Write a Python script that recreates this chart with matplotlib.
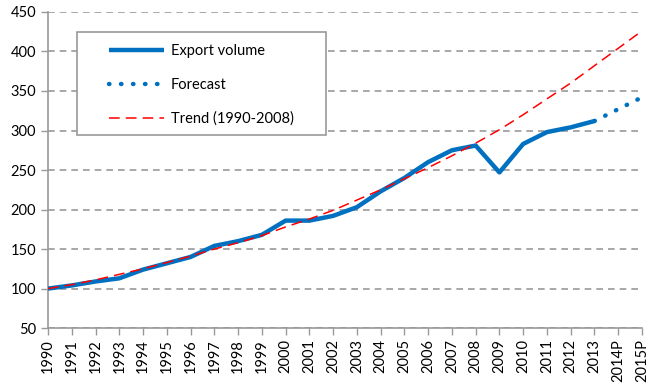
import matplotlib
matplotlib.use("Agg")
import matplotlib.pyplot as plt
from matplotlib.patches import Rectangle

plt.rcParams['font.family'] = ['Lato', 'DejaVu Sans']

categories = ['1990', '1991', '1992', '1993', '1994', '1995', '1996', '1997', '1998',
              '1999', '2000', '2001', '2002', '2003', '2004', '2005', '2006', '2007',
              '2008', '2009', '2010', '2011', '2012', '2013', '2014P', '2015P']
export_volume = [100, 104, 109, 113, 124, 132, 140, 154, 160, 168, 186, 186, 192, 203,
                 223, 240, 260, 275, 281, 247, 283, 298, 304, 312]
forecast = [312, 327, 342]  # 2013, 2014P, 2015P
trend = [100, 105, 111, 118, 125, 133, 141, 150, 158, 167, 178, 188, 199, 212, 225,
         239, 253, 268, 284, 301, 320, 340, 360, 382, 404, 426]

blue = '#0070C0'
fig = plt.figure(figsize=(6.68, 3.86), dpi=100)
ax = fig.add_axes([0.0719, 0.150, 0.8891, 0.819])

x = list(range(len(categories)))
ax.plot(x[:len(export_volume)], export_volume, color=blue, lw=3.2,
        solid_capstyle='butt', solid_joinstyle='round', label='Export volume', zorder=3)
ax.plot(x[len(export_volume) - 1:], forecast, color=blue, lw=3.2,
        linestyle=(0, (0.1, 2.6)), dash_capstyle='round', label='Forecast', zorder=3)
ax.plot(x, trend, color='#FF0000', lw=1.1, dashes=(7, 4), label='Trend (1990-2008)', zorder=4)

ax.set_xlim(0, len(categories) - 1)
ax.set_ylim(50, 450)
ax.set_yticks(range(50, 451, 50))
ax.set_xticks(x)
ax.set_xticklabels(categories, rotation=90, fontsize=10.5)
ax.tick_params(axis='y', labelsize=10.5, length=5, color='#999999', width=1)
ax.tick_params(axis='x', length=5, color='#999999', width=1, pad=3)

ax.grid(axis='y', color='#999999', lw=1.2, dashes=(4, 3))
ax.set_axisbelow(True)
for s in ['top', 'right']:
    ax.spines[s].set_visible(False)
for s in ['left', 'bottom']:
    ax.spines[s].set_color('#999999')
    ax.spines[s].set_linewidth(1.2)

box = Rectangle((77 / 668, 1 - 135 / 386), 249 / 668, 103 / 386, transform=fig.transFigure,
                facecolor='white', edgecolor='#999999', lw=1.2, zorder=5, clip_on=False)
ax.add_patch(box)

leg = ax.legend(loc='upper left', bbox_to_anchor=(109 / 668, 1 - 44 / 386),
                bbox_transform=fig.transFigure, fontsize=10.5, frameon=False,
                handlelength=3.8, handletextpad=0.45, labelspacing=1.35, borderpad=0,
                borderaxespad=0)
leg.set_zorder(6)

fig.savefig('out.png', dpi=100)
